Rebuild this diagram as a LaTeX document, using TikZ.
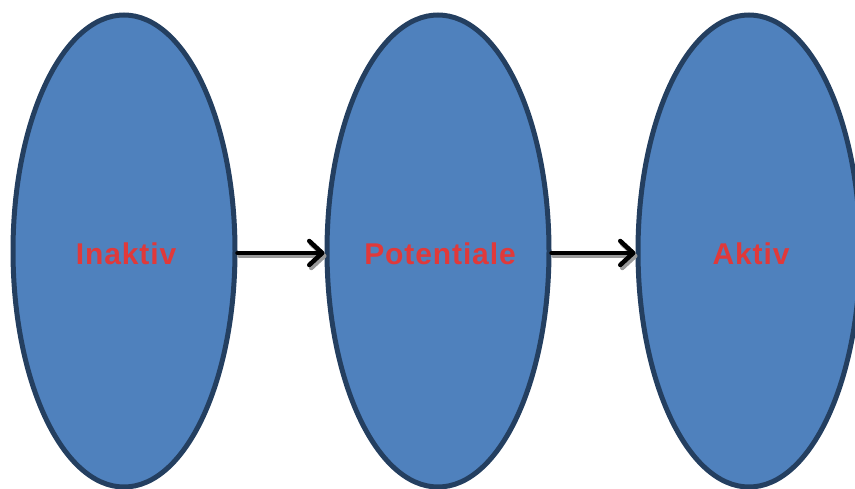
\documentclass[tikz,border=0pt]{standalone}
\usepackage{fontspec}
\setmainfont{Liberation Sans}
\newfontfamily\statelabelfont{Liberation Sans Bold}[LetterSpace=3]
\usetikzlibrary{shapes.geometric,arrows.meta}
\definecolor{fillblue}{HTML}{4F81BD}
\definecolor{edgeblue}{HTML}{243F60}
\definecolor{labelred}{HTML}{E0393A}
\definecolor{shadowgray}{HTML}{9A9A9A}
\tikzset{
  state/.style={ellipse, draw=edgeblue, fill=fillblue, line width=5pt,
    minimum width=222pt, minimum height=472pt, inner sep=0pt,
    text=labelred, font=\fontsize{30}{34}\statelabelfont},
  link/.style={line width=4.5pt, line cap=round,
    -{Straight Barb[length=13pt,width=24pt,line cap=round,line join=round]}},
  linkshadow/.style={link, draw=shadowgray}
}
\newcommand{\statetext}[1]{\hspace*{4pt}\raisebox{-14pt}[0pt][0pt]{#1}}
\begin{document}
\begin{tikzpicture}[x=1pt,y=-1pt]
\useasboundingbox (0,0) rectangle (855,489);
\node[state] (a) at (124,251) {\statetext{Inaktiv}};
\node[state] (b) at (438,251) {\statetext{Potentiale}};
\node[state] (c) at (749,251) {\statetext{Aktiv}};
\begin{scope}[transform canvas={shift={(2pt,-3pt)}}]
\draw[linkshadow] ([yshift=-2pt]a.east) -- ([yshift=-2pt]b.west);
\draw[linkshadow] ([yshift=-2pt]b.east) -- ([yshift=-2pt]c.west);
\end{scope}
\draw[link] ([yshift=-2pt]a.east) -- ([yshift=-2pt]b.west);
\draw[link] ([yshift=-2pt]b.east) -- ([yshift=-2pt]c.west);
\end{tikzpicture}
\end{document}
